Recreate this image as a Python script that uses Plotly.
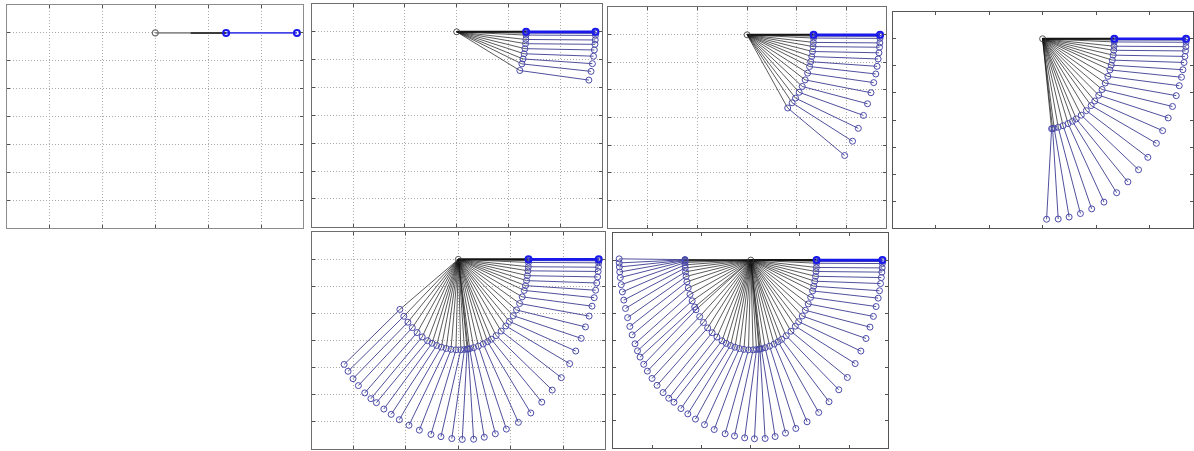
import numpy as np
import plotly.graph_objects as go

# Two-link pendulum released from the horizontal: joint angles per saved frame,
# in degrees measured clockwise (downwards) from the +x direction.
THETA1_DEG = [0.0, 0.8, 2.0, 4.7, 7.3, 10.4, 13.6, 16.9, 20.1, 24.5,
              29.2, 34.0, 38.5, 43.3, 47.4, 52.4, 57.4, 62.0, 65.4, 69.2,
              73.4, 77.4, 80.7, 82.0, 82.8, 85.0, 88.0, 92.0, 96.0, 100.0,
              104.0, 108.0, 112.0, 116.0, 121.0, 126.0, 131.0, 136.0, 141.0, 146.4,
              148.5, 153.0, 157.5, 162.0, 166.0, 169.5, 172.5, 175.0, 177.0, 178.5,
              179.3, 179.8, 180.0, 180.2, 180.3]
THETA2_DEG = [0.0, 0.1, 0.2, 0.3, 0.4, 0.8, 1.5, 2.9, 4.6, 5.9,
              8.0, 10.8, 14.5, 19.1, 24.6, 31.0, 37.0, 44.0, 52.0, 60.0,
              66.5, 72.0, 78.0, 85.5, 94.0, 100.4, 106.4, 110.8, 116.8, 122.0,
              126.8, 130.4, 133.4, 136.8, 137.0, 138.2, 140.2, 141.4, 142.6, 142.6,
              146.1, 146.2, 146.7, 148.4, 150.2, 152.7, 155.9, 159.0, 162.4, 165.7,
              169.5, 172.6, 175.6, 178.0, 180.5]
ARM_LENGTH = [0.67, 0.67]            # upper link, lower link
PANEL_FRAMES = [1, 10, 16, 25, 40, 55]  # frames accumulated in each snapshot
PANEL_GRID = [True, True, True, False, True, False]

X_TICKS = [-1.0, -0.5, 0.0, 0.5, 1.0]
Y_TICKS = [0.0, -0.2, -0.4, -0.6, -0.8, -1.0, -1.2]
X_RANGE = [-1.4, 1.4]
Y_RANGE = [-1.4, 0.2]

W, H = 1194, 451
# snapshot boxes in pixels: left, right, top, bottom
BOXES = [(7.3, 303.3, 5.0, 228.3),
         (311.7, 601.7, 4.0, 226.7),
         (608.3, 886.0, 7.3, 227.7),
         (892.7, 1192.5, 11.7, 228.3),
         (311.7, 605.0, 232.3, 448.5),
         (613.3, 888.3, 233.3, 447.7)]
BOX_COLORS = ["rgb(140,140,140)", "rgb(110,110,110)", "rgb(110,110,110)",
              "rgb(85,85,85)", "rgb(110,110,110)", "rgb(85,85,85)"]

t1 = np.radians(THETA1_DEG)
t2 = np.radians(THETA2_DEG)
x1 = ARM_LENGTH[0] * np.cos(t1)
y1 = -ARM_LENGTH[0] * np.sin(t1)
x2 = x1 + ARM_LENGTH[1] * np.cos(t2)
y2 = y1 - ARM_LENGTH[1] * np.sin(t2)

UPPER = "rgb(20,20,20)"
LOWER = "rgb(60,60,145)"
BOB = "rgb(75,75,170)"
BLUE = "rgb(25,25,235)"

fig = go.Figure()


def segments(ax, ay, bx, by):
    xs, ys = [], []
    for a, b, c, d in zip(ax, ay, bx, by):
        xs += [a, c, None]
        ys += [b, d, None]
    return xs, ys


for k, n in enumerate(PANEL_FRAMES):
    xa = "x" if k == 0 else f"x{k + 1}"
    ya = "y" if k == 0 else f"y{k + 1}"
    zeros = np.zeros(n)

    if n > 1:
        sx, sy = segments(zeros[1:], zeros[1:], x1[1:n], y1[1:n])
        fig.add_trace(go.Scatter(x=sx, y=sy, mode="lines", xaxis=xa, yaxis=ya,
                                 line=dict(color=UPPER, width=0.7), hoverinfo="skip"))
        sx, sy = segments(x1[1:n], y1[1:n], x2[1:n], y2[1:n])
        fig.add_trace(go.Scatter(x=sx, y=sy, mode="lines", xaxis=xa, yaxis=ya,
                                 line=dict(color=LOWER, width=0.9), hoverinfo="skip"))

    # initial configuration, drawn heavier
    if n == 1:
        fig.add_trace(go.Scatter(x=[0, x1[0]], y=[0, y1[0]], mode="lines", xaxis=xa, yaxis=ya,
                                 line=dict(color="rgb(140,140,140)", width=1.6), hoverinfo="skip"))
        fig.add_trace(go.Scatter(x=[0.5 * x1[0], x1[0]], y=[0.5 * y1[0], y1[0]], mode="lines",
                                 xaxis=xa, yaxis=ya,
                                 line=dict(color="rgb(60,60,60)", width=2), hoverinfo="skip"))
        fig.add_trace(go.Scatter(x=[x1[0], x2[0]], y=[y1[0], y2[0]], mode="lines", xaxis=xa, yaxis=ya,
                                 line=dict(color="rgb(70,70,230)", width=1.8), hoverinfo="skip"))
    else:
        fig.add_trace(go.Scatter(x=[0, x1[0]], y=[0, y1[0]], mode="lines", xaxis=xa, yaxis=ya,
                                 line=dict(color=UPPER, width=2), hoverinfo="skip"))
        fig.add_trace(go.Scatter(x=[x1[0], x2[0]], y=[y1[0], y2[0]], mode="lines", xaxis=xa, yaxis=ya,
                                 line=dict(color=BLUE, width=2.6), hoverinfo="skip"))

    if n > 1:
        fig.add_trace(go.Scatter(x=np.concatenate([x1[1:n], x2[1:n]]),
                                 y=np.concatenate([y1[1:n], y2[1:n]]),
                                 mode="markers", xaxis=xa, yaxis=ya,
                                 marker=dict(symbol="circle-open", size=6, color=BOB,
                                             line=dict(width=1)),
                                 hoverinfo="skip"))
    fig.add_trace(go.Scatter(x=[x1[0], x2[0]], y=[y1[0], y2[0]], mode="markers", xaxis=xa, yaxis=ya,
                             marker=dict(symbol="circle-open", size=6, color=BLUE,
                                         line=dict(width=2)),
                             hoverinfo="skip"))
    fig.add_trace(go.Scatter(x=[0], y=[0], mode="markers", xaxis=xa, yaxis=ya,
                             marker=dict(symbol="circle-open", size=6,
                                         color="rgb(110,110,110)" if n == 1 else "rgb(50,50,50)",
                                         line=dict(width=1.2 if n == 1 else 0.8)),
                             hoverinfo="skip"))

    left, right, top, bottom = BOXES[k]
    grid = PANEL_GRID[k]
    common = dict(showline=True, linecolor=BOX_COLORS[k], linewidth=1,
                  mirror="ticks", ticks="inside", ticklen=3, tickwidth=1,
                  tickcolor="rgb(80,80,80)", showticklabels=False, zeroline=False,
                  showgrid=grid, gridcolor="rgb(170,170,170)", gridwidth=1,
                  griddash="1px,2px", fixedrange=True)
    fig.layout[("xaxis" if k == 0 else f"xaxis{k + 1}")] = dict(
        domain=[left / W, right / W], range=X_RANGE, tickvals=X_TICKS,
        anchor=ya, **common)
    fig.layout[("yaxis" if k == 0 else f"yaxis{k + 1}")] = dict(
        domain=[1 - bottom / H, 1 - top / H], range=Y_RANGE, tickvals=Y_TICKS,
        anchor=xa, **common)

fig.update_layout(width=W, height=H, margin=dict(l=0, r=0, t=0, b=0),
                  paper_bgcolor="white", plot_bgcolor="white", showlegend=False)

fig.write_html("out.html")
